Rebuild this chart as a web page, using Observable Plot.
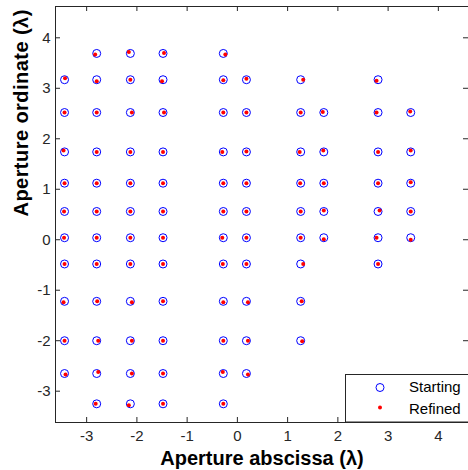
<!DOCTYPE html>
<html><head><meta charset="utf-8">
<script src="https://cdn.jsdelivr.net/npm/d3@7"></script>
<script src="https://cdn.jsdelivr.net/npm/@observablehq/plot@0.6"></script>
<style>html,body{margin:0;padding:0;background:#fff} svg{display:block}</style>
</head><body><div id="chart"></div>
<script>
// Starting aperture positions (λ), listed column by column
const startingX = [
  -3.44,-3.44,-3.44,-3.44,-3.44,-3.44,-3.44,-3.44,-3.44,-3.44,
  -2.80,-2.80,-2.80,-2.80,-2.80,-2.80,-2.80,-2.80,-2.80,-2.80,-2.80,-2.80,
  -2.13,-2.13,-2.13,-2.13,-2.13,-2.13,-2.13,-2.13,-2.13,-2.13,-2.13,-2.13,
  -1.48,-1.48,-1.48,-1.48,-1.48,-1.48,-1.48,-1.48,-1.48,-1.48,-1.48,-1.48,
  -0.28,-0.28,-0.28,-0.28,-0.28,-0.28,-0.28,-0.28,-0.28,-0.28,-0.28,-0.28,
  0.18,0.18,0.18,0.18,0.18,0.18,0.18,0.18,0.18,0.18,
  1.26,1.26,1.26,1.26,1.26,1.26,1.26,1.26,1.26,
  1.72,1.72,1.72,1.72,1.72,
  2.80,2.80,2.80,2.80,2.80,2.80,2.80,
  3.45,3.45,3.45,3.45,3.45
];
const startingY = [
  3.17,2.52,1.74,1.12,0.56,0.04,-0.48,-1.22,-2.00,-2.65,
  3.69,3.17,2.52,1.74,1.12,0.56,0.04,-0.48,-1.22,-2.00,-2.65,-3.25,
  3.69,3.17,2.52,1.74,1.12,0.56,0.04,-0.48,-1.22,-2.00,-2.65,-3.25,
  3.69,3.17,2.52,1.74,1.12,0.56,0.04,-0.48,-1.22,-2.00,-2.65,-3.25,
  3.69,3.17,2.52,1.74,1.12,0.56,0.04,-0.48,-1.22,-2.00,-2.65,-3.25,
  3.17,2.52,1.74,1.12,0.56,0.04,-0.48,-1.22,-2.00,-2.65,
  3.17,2.52,1.74,1.12,0.56,0.04,-0.48,-1.22,-2.00,
  2.52,1.74,1.12,0.56,0.04,
  3.17,2.52,1.74,1.12,0.56,0.04,-0.48,
  2.52,1.74,1.12,0.56,0.04
];
// Refined aperture positions (λ), same order
const refinedX = [
  -3.43,-3.44,-3.46,-3.44,-3.45,-3.45,-3.44,-3.46,-3.44,-3.42,
  -2.83,-2.80,-2.80,-2.80,-2.80,-2.80,-2.80,-2.80,-2.79,-2.77,-2.77,-2.82,
  -2.16,-2.13,-2.10,-2.13,-2.13,-2.13,-2.13,-2.13,-2.10,-2.10,-2.10,-2.16,
  -1.46,-1.50,-1.46,-1.48,-1.48,-1.48,-1.48,-1.48,-1.48,-1.48,-1.48,-1.48,
  -0.24,-0.28,-0.28,-0.30,-0.28,-0.28,-0.30,-0.29,-0.28,-0.28,-0.29,-0.28,
  0.18,0.18,0.18,0.18,0.18,0.18,0.18,0.21,0.21,0.21,
  1.31,1.26,1.24,1.25,1.26,1.26,1.31,1.28,1.29,
  1.70,1.71,1.72,1.72,1.72,
  2.77,2.77,2.80,2.80,2.83,2.77,2.80,
  3.44,3.45,3.45,3.45,3.45
];
const refinedY = [
  3.20,2.52,1.77,1.12,0.56,0.04,-0.48,-1.24,-2.00,-2.67,
  3.67,3.14,2.52,1.74,1.12,0.56,0.04,-0.48,-1.22,-2.00,-2.62,-3.25,
  3.72,3.17,2.52,1.74,1.12,0.56,0.04,-0.48,-1.24,-2.00,-2.65,-3.28,
  3.70,3.14,2.52,1.74,1.12,0.56,0.04,-0.48,-1.22,-2.00,-2.65,-3.25,
  3.67,3.16,2.52,1.74,1.12,0.56,0.04,-0.48,-1.24,-2.00,-2.62,-3.25,
  3.19,2.52,1.75,1.12,0.56,0.04,-0.48,-1.24,-2.00,-2.67,
  3.17,2.52,1.74,1.12,0.56,0.04,-0.48,-1.22,-2.01,
  2.53,1.77,1.12,0.58,0.01,
  3.15,2.52,1.74,1.12,0.58,0.04,-0.48,
  2.54,1.77,1.14,0.56,0.00
];
const xTicks = [-3,-2,-1,0,1,2,3,4];
const yTicks = [-3,-2,-1,0,1,2,3,4];
const xLabel = "Aperture abscissa (λ)";
const yLabel = "Aperture ordinate (λ)";
const legendLabels = ["Starting", "Refined"];

const W = 468, H = 470, mL = 55, mT = 6, mB = 48, mR = 0;
const innerW = W - mL - mR, innerH = H - mT - mB;
const font = "'Liberation Sans', Arial, sans-serif";
const axisColor = "#262626";
const blue = "#0000ff", red = "#ff0000";
const tickLen = 5;

const starting = startingX.map((x, i) => ({x, y: startingY[i]}));
const refined = refinedX.map((x, i) => ({x, y: refinedY[i]}));
const fmt = d => String(d);

const plot = Plot.plot({
  width: W, height: H,
  marginLeft: mL, marginTop: mT, marginBottom: mB, marginRight: mR,
  style: {fontFamily: font, fontSize: "15px", color: axisColor, background: "white"},
  x: {domain: [-3.62, 4.6]},
  y: {domain: [-3.62, 4.62]},
  marks: [
    Plot.axisX(xTicks, {anchor: "bottom", tickSize: 0, tickPadding: 8, fontSize: 15, tickFormat: fmt, label: null, fill: axisColor}),
    Plot.axisY(yTicks, {anchor: "left", tickSize: 0, tickPadding: 5, fontSize: 15, tickFormat: fmt, label: null, fill: axisColor}),
    Plot.tickX(xTicks, {x: d => d, insetTop: innerH - tickLen, stroke: axisColor}),
    Plot.tickX(xTicks, {x: d => d, insetBottom: innerH - tickLen, stroke: axisColor}),
    Plot.tickY(yTicks, {y: d => d, insetRight: innerW - tickLen, stroke: axisColor}),
    Plot.tickY(yTicks, {y: d => d, insetLeft: innerW - tickLen, stroke: axisColor}),
    Plot.dot(starting, {x: "x", y: "y", r: 4, stroke: blue, fill: "none", strokeWidth: 1}),
    Plot.dot(refined, {x: "x", y: "y", r: 2, fill: red, stroke: "none"}),
    Plot.frame({stroke: axisColor}),
    Plot.text([xLabel], {frameAnchor: "bottom", dy: 42, lineAnchor: "bottom", fontWeight: "bold", fontSize: 20, fill: "black"}),
    Plot.text([yLabel], {frameAnchor: "left", dx: -28, dy: 2, rotate: -90, lineAnchor: "bottom", fontWeight: "bold", fontSize: 20, fill: "black", className: "ylab"})
  ]
});

const svg = d3.select(plot);
svg.selectAll(".ylab text").attr("letter-spacing", "0.45px");

// Legend box inside the axes, lower right
const lg = svg.append("g").attr("font-family", font).attr("font-size", 15).attr("text-anchor", "start");
const lx = 345.5, ly = 374.5;
lg.append("rect").attr("x", lx).attr("y", ly).attr("width", W - lx + 2).attr("height", (H - mB) - ly)
  .attr("fill", "white").attr("stroke", axisColor);
lg.append("circle").attr("cx", 380).attr("cy", 387.5).attr("r", 4).attr("fill", "none").attr("stroke", blue);
lg.append("circle").attr("cx", 380).attr("cy", 407.5).attr("r", 2).attr("fill", red);
lg.append("text").attr("x", 409).attr("y", 392).attr("fill", "black").text(legendLabels[0]);
lg.append("text").attr("x", 409).attr("y", 413.5).attr("fill", "black").text(legendLabels[1]);

document.getElementById("chart").appendChild(plot);
</script>
</body></html>
